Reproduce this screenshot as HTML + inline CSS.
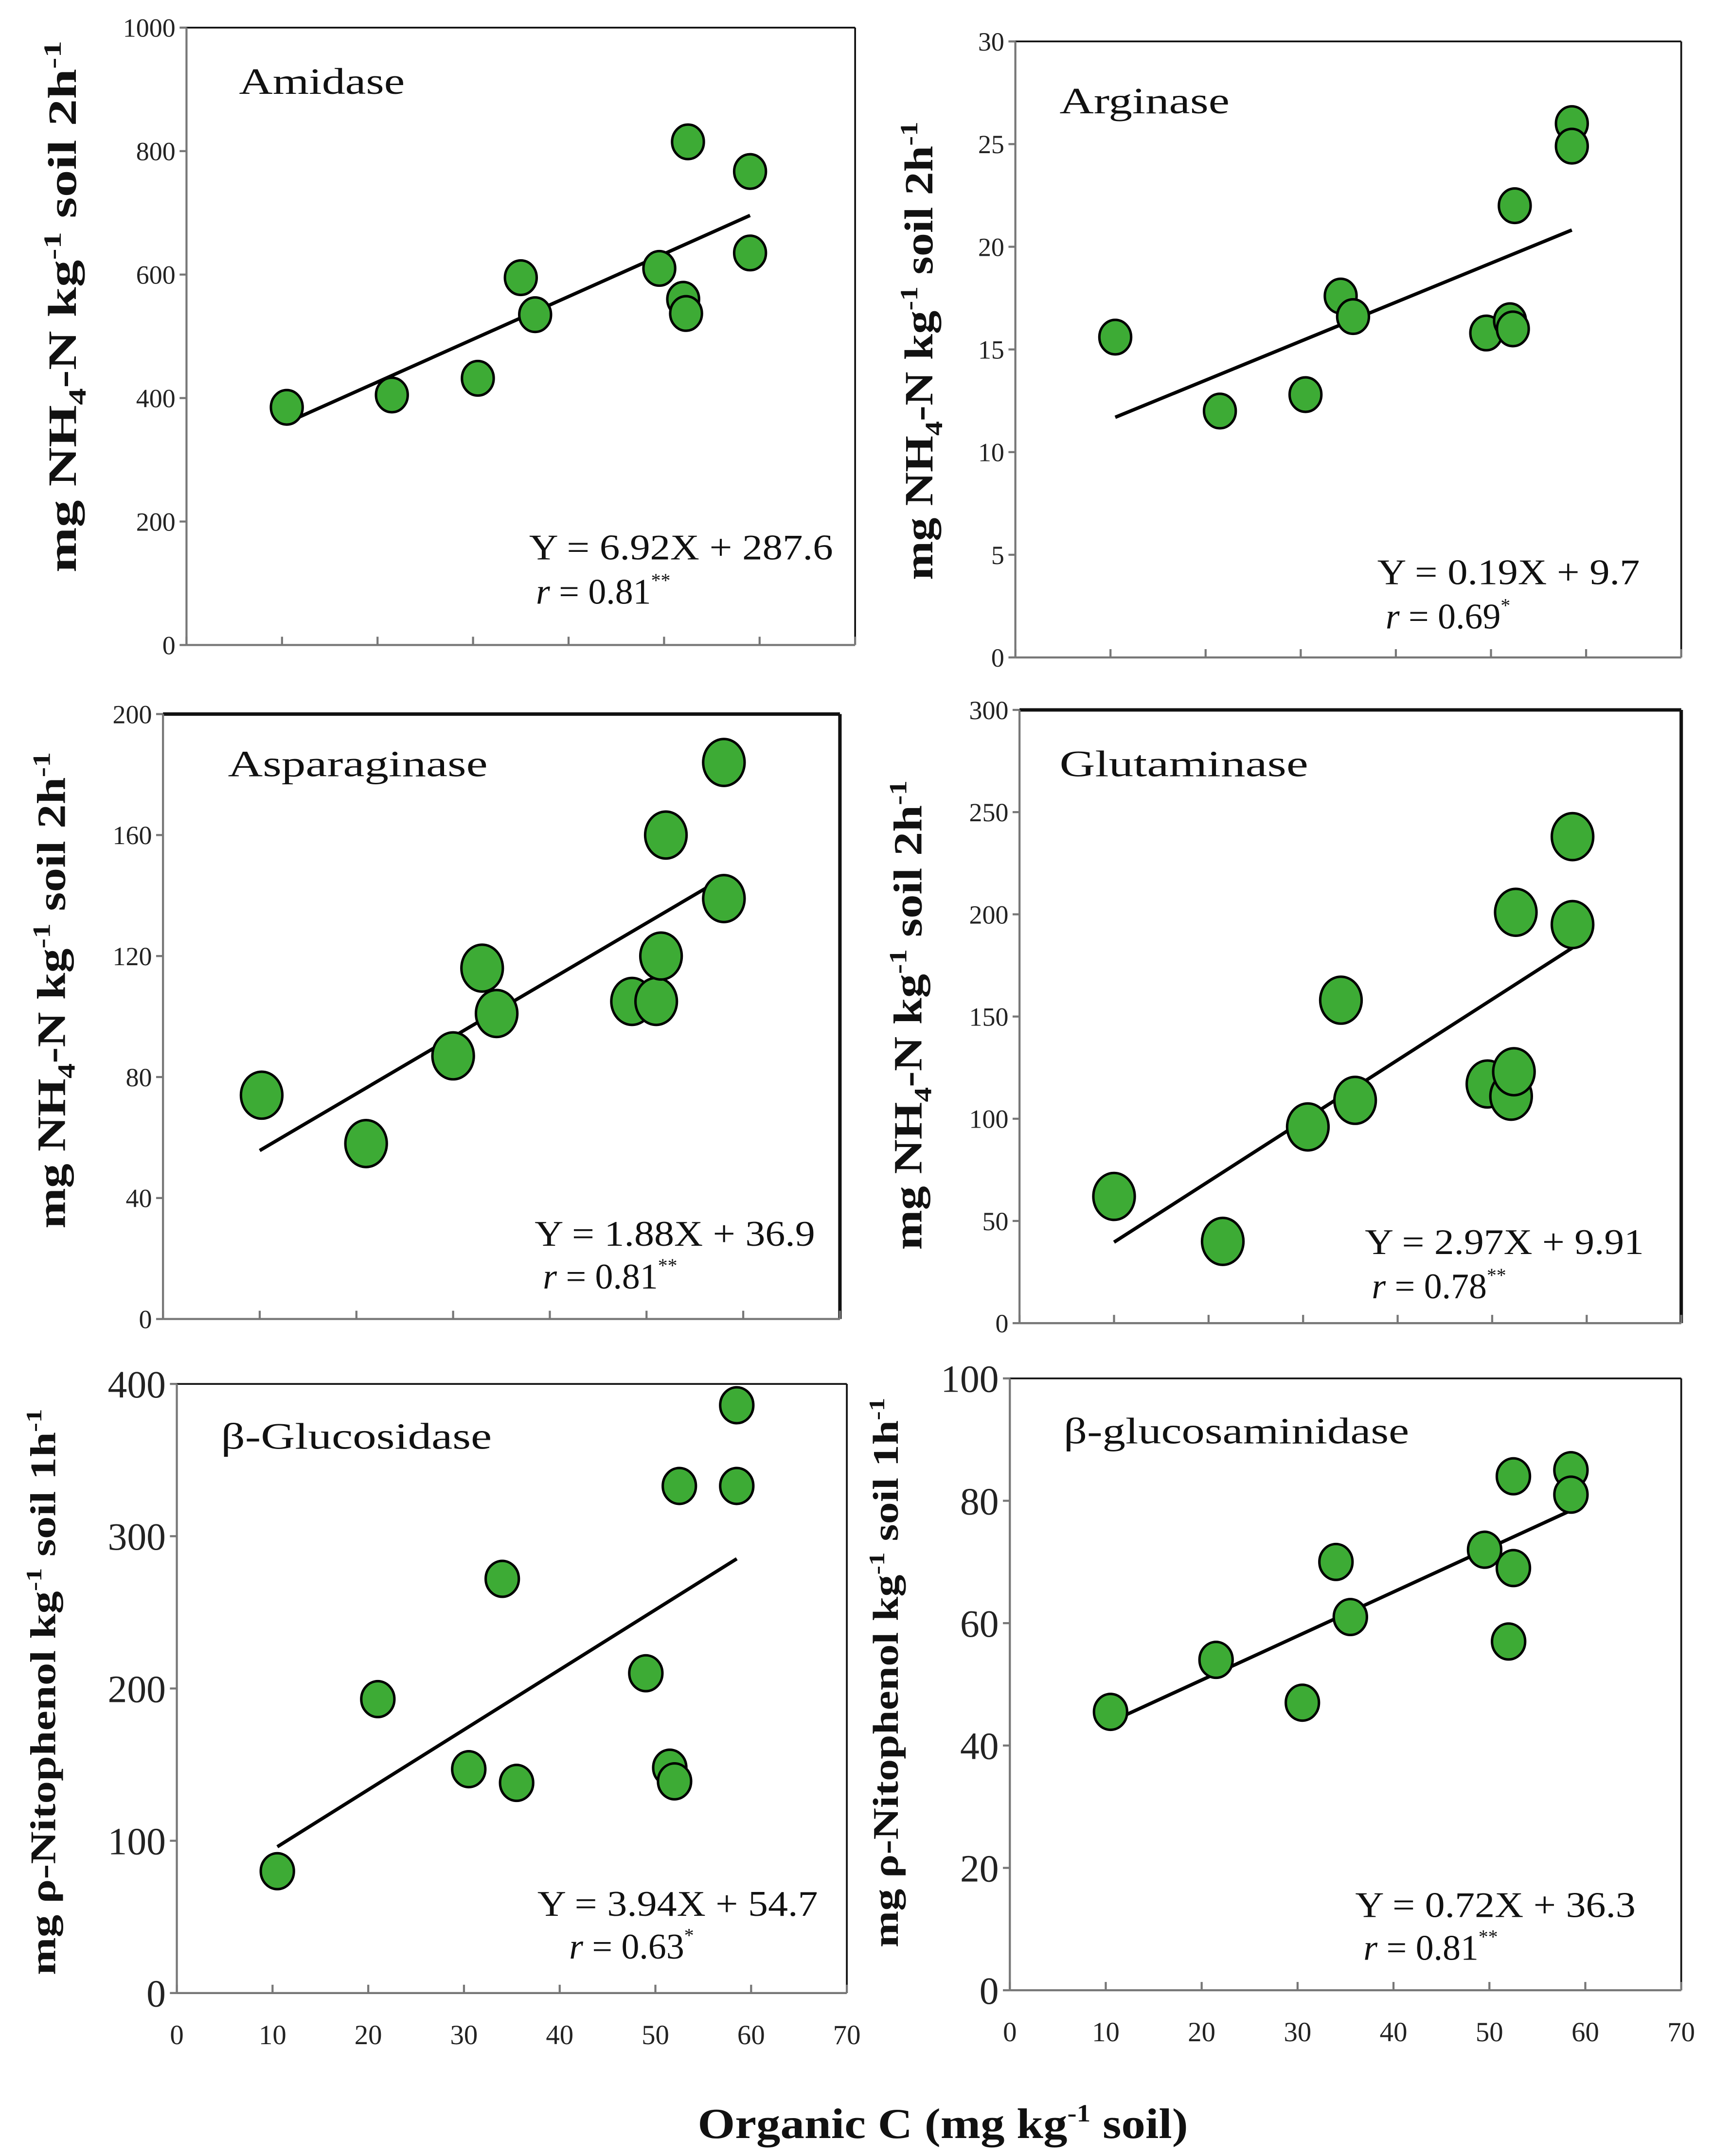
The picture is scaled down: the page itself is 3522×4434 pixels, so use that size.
<!DOCTYPE html>
<html><head><meta charset="utf-8">
<style>
html,body{margin:0;padding:0;background:#fff;}
svg{display:block;}
text{font-family:"Liberation Serif",serif;}
</style></head>
<body>
<svg id="chart" xmlns="http://www.w3.org/2000/svg" width="3522" height="4434" viewBox="0 0 1240 1561" preserveAspectRatio="none"></svg>
<script>
// ---- data ----
const xTicks = [0,10,20,30,40,50,60,70];
const amidaseX = [10.5,21.5,30.5,35,36.5,49.5,52.5,52,52.3,59,59];
const amidaseY = [385,405,432,595,535,610,815,560,537,767,635];
const arginaseX = [10.5,21.5,30.5,34.2,35.5,49.5,52,52.3,52.5,58.5,58.5];
const arginaseY = [15.6,12,12.8,17.6,16.6,15.8,16.4,16,22,26,24.9];
const asparaginaseX = [10.2,21,30,33,34.5,48.5,51,51.5,52,58,58];
const asparaginaseY = [74,58,87,116,101,105,105,120,160,184,139];
const glutaminaseX = [10,21.5,30.5,34,35.5,49.5,52,52.3,52.5,58.5,58.5];
const glutaminaseY = [62,40,96,158,109,117,111,123,201,238,195];
const glucosidaseX = [10.5,21,30.5,34,35.5,49,51.5,52,52.5,58.5,58.5];
const glucosidaseY = [80,193,147,272,138,210,148,139,333,386,333];
const glucosaminidaseX = [10.5,21.5,30.5,34,35.5,49.5,52,52.5,52.5,58.5,58.5];
const glucosaminidaseY = [45.5,54,47,70,61,72,57,69,84,85,81];
const slopes = [6.92,0.19,1.88,2.97,3.94,0.72];
const intercepts = [287.6,9.7,36.9,9.91,54.7,36.3];
const fitRanges = [[10.5,59],[10.5,58.5],[10,58],[10,58.5],[10.5,58.5],[10.5,58.5]];
const yTicks1 = [0,200,400,600,800,1000];
const yTicks2 = [0,5,10,15,20,25,30];
const yTicks3 = [0,40,80,120,160,200];
const yTicks4 = [0,50,100,150,200,250,300];
const yTicks5 = [0,100,200,300,400];
const yTicks6 = [0,20,40,60,80,100];
const names = ["Amidase","Arginase","Asparaginase","Glutaminase","β-Glucosidase","β-glucosaminidase"];
const eqs = ["Y = 6.92X + 287.6","Y = 0.19X + 9.7","Y = 1.88X + 36.9","Y = 2.97X + 9.91","Y = 3.94X + 54.7","Y = 0.72X + 36.3"];
const rvals = ["0.81","0.69","0.81","0.78","0.63","0.81"];
const stars = ["**","*","**","**","*","**"];

// ---- layout ----
const NS="http://www.w3.org/2000/svg";
const svg=document.getElementById('chart');
function mk(tag,attrs,parent){const e=document.createElementNS(NS,tag);for(const k in attrs)e.setAttribute(k,attrs[k]);(parent||svg).appendChild(e);return e;}

const panels=[
 {x:amidaseX,y:amidaseY,yt:yTicks1,ymax:1000,L:135,R:619,T:20,B:467,rx:11.5,ry:12.5,tf:19,xl:false,
  name:[173,68,120],eq:[383,405,220],r:[388,437],title:[45,222,29,385],tt:"NH"},
 {x:arginaseX,y:arginaseY,yt:yTicks2,ymax:30,L:735,R:1217,T:30,B:476,rx:11.5,ry:12.5,tf:19,xl:false,
  name:[767,82,123],eq:[997,423,190],r:[1003,455],title:[665,254,29,332],tt:"NH"},
 {x:asparaginaseX,y:asparaginaseY,yt:yTicks3,ymax:200,L:118,R:608,T:517,B:955,rx:15,ry:17,tf:19,xl:false,heavy:true,
  name:[165,562,188],eq:[387,902,203],r:[393,933],title:[37,717,29,345],tt:"NH"},
 {x:glutaminaseX,y:glutaminaseY,yt:yTicks4,ymax:300,L:738,R:1217,T:514,B:958,rx:15,ry:17,tf:19,xl:false,heavy:true,
  name:[767,562,180],eq:[988,908,202],r:[993,940],title:[657,735,29,340],tt:"NH"},
 {x:glucosidaseX,y:glucosidaseY,yt:yTicks5,ymax:400,L:128,R:613,T:1002,B:1443,rx:12,ry:13,tf:28,xl:true,
  name:[160,1049,196],eq:[389,1387,203],r:[412,1418],title:[30,1225,26,410],tt:"PN"},
 {x:glucosaminidaseX,y:glucosaminidaseY,yt:yTicks6,ymax:100,L:731,R:1217,T:998,B:1441,rx:12,ry:13,tf:28,xl:true,
  name:[770,1045,250],eq:[981,1388,203],r:[987,1419],title:[640,1211,26,398],tt:"PN"}
];

panels.forEach((p,i)=>{
  const g=mk('g',{});
  
  
  const X=v=>p.L+(p.R-p.L)*v/70;
  const Y=v=>p.B-(p.B-p.T)*v/p.ymax;
  const top=mk('line',{x1:p.L,y1:p.T,x2:p.R,y2:p.T,stroke:'#111','stroke-width':p.heavy?2.5:1.3},g);
  
  
  const right=mk('line',{x1:p.R,y1:p.T,x2:p.R,y2:p.B,stroke:'#111','stroke-width':p.heavy?2.5:1.3},g);
  
  
  const yax=mk('line',{x1:p.L,y1:p.T,x2:p.L,y2:p.B,stroke:'#777','stroke-width':1.5},g);
  
  
  const xax=mk('line',{x1:p.L,y1:p.B,x2:p.R,y2:p.B,stroke:'#777','stroke-width':1.5},g);
  
  
  p.yt.forEach(v=>{
    const t=mk('line',{x1:p.L-5,y1:Y(v),x2:p.L,y2:Y(v),stroke:'#777','stroke-width':1.5},g);
    
    
    const lb=mk('text',{x:p.L-8,y:Y(v)+p.tf*0.35,'text-anchor':'end','font-size':p.tf,fill:'#222'},g);
    lb.textContent=v;
    
    
  });
  xTicks.forEach(v=>{
    const t=mk('line',{x1:X(v),y1:p.B-6,x2:X(v),y2:p.B,stroke:'#777','stroke-width':1.5},g);
    
    
    if(p.xl){
      const lb=mk('text',{x:X(v),y:p.B+37,'text-anchor':'middle','font-size':20,fill:'#222'},g);
      lb.textContent=v;
      
      
    }
  });
  const f=fitRanges[i];
  const fl=mk('line',{x1:X(f[0]),y1:Y(slopes[i]*f[0]+intercepts[i]),x2:X(f[1]),y2:Y(slopes[i]*f[1]+intercepts[i]),stroke:'#000','stroke-width':2.5},g);
  
  
  p.x.forEach((xv,j)=>{
    const c=mk('ellipse',{cx:X(xv),cy:Y(p.y[j]),rx:p.rx,ry:p.ry,fill:'#3dab35',stroke:'#000','stroke-width':1.8},g);
    
    
  });
  const nm=mk('text',{x:p.name[0],y:p.name[1],'font-size':27,fill:'#111',textLength:p.name[2],lengthAdjust:'spacingAndGlyphs'},g);
  nm.textContent=names[i];
  
  
  const eq=mk('text',{x:p.eq[0],y:p.eq[1],'font-size':26,fill:'#111',textLength:p.eq[2],lengthAdjust:'spacingAndGlyphs'},g);
  eq.textContent=eqs[i];
  
  
  const rt=mk('text',{x:p.r[0],y:p.r[1],'font-size':26,fill:'#111'},g);
  rt.innerHTML='<tspan font-style="italic">r</tspan> = '+rvals[i]+'<tspan font-size="14" dy="-12">'+stars[i]+'</tspan>';
  
  
  const tt=mk('text',{x:0,y:0,'font-size':p.title[2],'font-weight':'bold','text-anchor':'middle',fill:'#111',textLength:p.title[3],lengthAdjust:'spacingAndGlyphs',transform:'translate('+(p.title[0]+10)+','+p.title[1]+') rotate(-90)'},g);
  if(p.tt==='NH') tt.innerHTML='mg NH<tspan font-size="18" dy="7">4</tspan><tspan dy="-7">-N kg</tspan><tspan font-size="18" dy="-11">-1</tspan><tspan dy="11"> soil 2h</tspan><tspan font-size="18" dy="-11">-1</tspan>';
  else tt.innerHTML='mg ρ-Nitophenol kg<tspan font-size="16" dy="-10">-1</tspan><tspan dy="10"> soil 1h</tspan><tspan font-size="16" dy="-10">-1</tspan>';
  
  
});

const xt=mk('text',{x:505,y:1548,'font-size':31,'font-weight':'bold',fill:'#111',textLength:355,lengthAdjust:'spacingAndGlyphs'});
xt.innerHTML='Organic C (mg kg<tspan font-size="18" dy="-12">-1</tspan><tspan dy="12"> soil)</tspan>';


</script>
</body></html>
